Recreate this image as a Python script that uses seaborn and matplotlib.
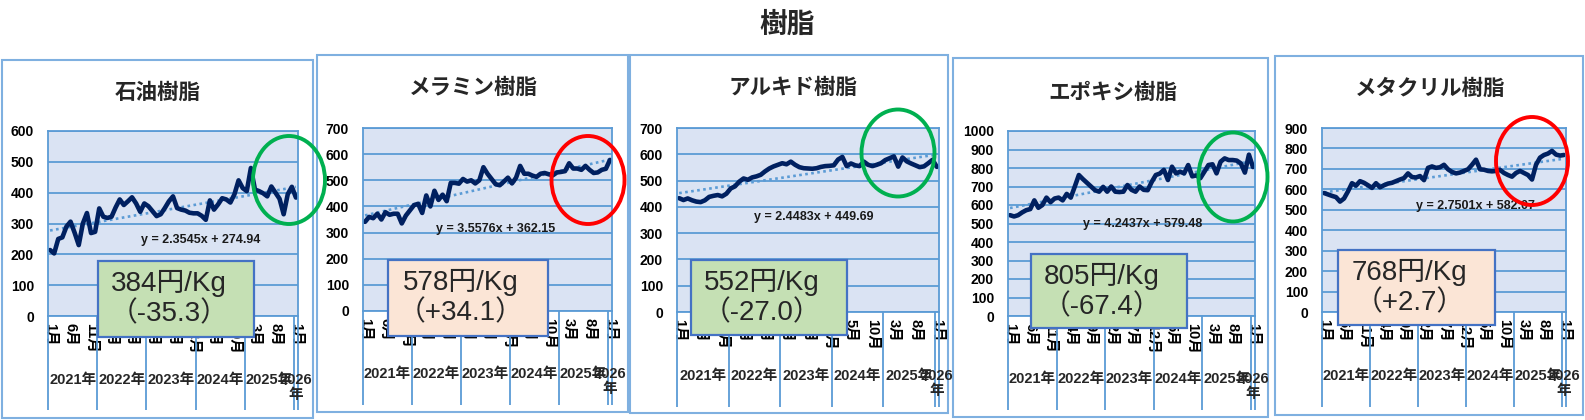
import matplotlib
matplotlib.use('Agg')
import matplotlib.pyplot as plt
import matplotlib.transforms as mtransforms
from matplotlib.patches import Rectangle, Ellipse
import numpy as np
import seaborn as sns

sns.set_theme(style='white')
plt.rcParams['font.family'] = ['Liberation Sans', 'Noto Sans CJK JP']

W, H = 1585, 420

# monthly prices, Jan 2021 .. Jan 2026 (61 points)
sekiyu = [214, 203, 250, 255, 290, 306, 270, 230, 300, 334, 269, 273, 349, 322, 318, 322,
          352, 378, 360, 372, 385, 365, 338, 365, 356, 340, 324, 330, 350, 372, 388, 350,
          345, 342, 335, 333, 333, 325, 312, 375, 345, 362, 382, 378, 368, 395, 440, 415,
          405, 480, 410, 405, 398, 388, 420, 400, 380, 330, 395, 419, 384]
melamine = [341, 360, 355, 372, 350, 378, 368, 372, 372, 335, 365, 385, 405, 410, 375, 442,
            400, 460, 425, 445, 420, 490, 490, 487, 505, 495, 500, 488, 500, 550, 525, 505,
            485, 481, 495, 510, 488, 510, 555, 525, 525, 518, 513, 525, 528, 523, 519, 530,
            532, 535, 565, 545, 545, 540, 555, 540, 528, 530, 540, 544, 578]
alkyd = [433, 426, 432, 425, 420, 418, 425, 438, 442, 445, 440, 450, 470, 478, 496, 508,
         503, 512, 516, 522, 535, 546, 554, 560, 566, 562, 572, 560, 551, 547, 546, 545,
         547, 552, 555, 556, 558, 580, 590, 555, 565, 558, 555, 572, 560, 555, 560, 566,
         578, 585, 592, 553, 588, 573, 565, 558, 551, 554, 566, 579, 552]
epoxy = [545, 538, 545, 560, 572, 578, 625, 585, 600, 640, 615, 635, 640, 625, 660, 640,
         700, 762, 740, 720, 700, 680, 672, 698, 672, 700, 672, 670, 672, 708, 682, 672,
         700, 682, 680, 725, 762, 770, 790, 735, 807, 771, 780, 771, 816, 755, 760, 745,
         780, 816, 820, 771, 834, 852, 843, 843, 840, 825, 775, 872, 805]
methacryl = [582, 575, 568, 562, 540, 555, 590, 630, 618, 640, 632, 620, 607, 630, 610, 620,
             628, 632, 640, 648, 655, 678, 660, 658, 665, 645, 705, 712, 705, 708, 720, 698,
             685, 678, 682, 690, 698, 720, 745, 698, 696, 690, 688, 690, 695, 680, 670, 662,
             680, 690, 680, 670, 648, 720, 755, 768, 775, 788, 770, 765, 768]

titles = ['石油樹脂', 'メラミン樹脂', 'アルキド樹脂', 'エポキシ樹脂', 'メタクリル樹脂']
series = [sekiyu, melamine, alkyd, epoxy, methacryl]
slopes = [2.3545, 3.5576, 2.4483, 4.2437, 2.7501]
intercepts = [274.94, 362.15, 449.69, 579.48, 582.07]
ymax = [600, 700, 700, 1000, 900]
prices = [384, 578, 552, 805, 768]
changes = ['-35.3', '+34.1', '-27.0', '-67.4', '+2.7']

month_ticks = ['1月', '6月', '11月', '4月', '9月', '2月', '7月', '12月', '5月', '10月', '3月', '8月', '1月']
year_labels = ['2021年', '2022年', '2023年', '2024年', '2025年', '2026\n年']

# pixel layout of each panel
layout = [
    dict(border=(2, 60, 313, 418), plot=(48, 131, 298, 316), title=(158, 92), box=(98, 261, 254, 337),
         ell=(289, 180, 72, 88), eq=(201, 240), year_y=379, sep=410),
    dict(border=(317, 55, 628, 412), plot=(363, 128, 612, 311), title=(473, 87), box=(388, 260, 548, 336),
         ell=(588, 180, 73, 88), eq=(496, 229), year_y=373, sep=405),
    dict(border=(630, 55, 948, 413), plot=(677, 128, 939, 312), title=(793, 87), box=(691, 260, 847, 335),
         ell=(898, 153, 73, 87), eq=(814, 217), year_y=375, sep=407),
    dict(border=(953, 58, 1268, 417), plot=(1008, 131, 1255, 316), title=(1113, 92), box=(1031, 254, 1187, 328),
         ell=(1233, 177, 69, 89), eq=(1143, 224), year_y=378, sep=410),
    dict(border=(1275, 56, 1583, 415), plot=(1322, 128, 1566, 312), title=(1430, 88), box=(1338, 250, 1495, 325),
         ell=(1532, 161, 72, 88), eq=(1475, 206), year_y=375, sep=407),
]

grid_c = '#5b9bd5'
cjk = ['Noto Sans CJK JP', 'DejaVu Sans']
boxfont = ['Liberation Sans', 'Noto Sans CJK JP']


def fx(x):
    return x / W


def fy(y):
    return 1 - y / H


fig = plt.figure(figsize=(W / 100, H / 100), dpi=100)
fig.text(fx(787), fy(25), '樹脂', ha='center', va='center', fontsize=20, fontweight='bold', family=cjk)

idx = np.arange(len(sekiyu))
tick_pos = list(range(0, 61, 5))
seps = [-0.5, 11.5, 23.5, 35.5, 47.5, 59.5, 60.5]
year_pos = [5.5, 17.5, 29.5, 41.5, 53.5, 60]

for k in range(5):
    L = layout[k]
    bx0, by0, bx1, by1 = L['border']
    fig.add_artist(Rectangle((fx(bx0), fy(by1)), (bx1 - bx0) / W, (by1 - by0) / H,
                             transform=fig.transFigure, facecolor='white',
                             edgecolor='#7fb0e0', lw=1.5, zorder=-5))
    px0, py0, px1, py1 = L['plot']
    ax = fig.add_axes([fx(px0), fy(py1), (px1 - px0) / W, (py1 - py0) / H])
    ax.set_facecolor('#dae3f3')

    trend = slopes[k] * (idx + 1) + intercepts[k]
    sns.lineplot(x=idx, y=trend, ax=ax, color='#5b9bd5', lw=1.9, linestyle=(0, (1, 1.3)))
    sns.lineplot(x=idx, y=series[k], ax=ax, color='#002060', lw=3.3,
                 solid_joinstyle='round', solid_capstyle='round')

    ax.set_xlim(-0.5, 60.5)
    ax.set_ylim(0, ymax[k])
    ax.set_yticks(range(0, ymax[k] + 1, 100))
    ax.set_xticks(tick_pos)
    ax.set_xticklabels(month_ticks, rotation=-90, fontsize=10.5, fontweight='bold')
    for lbl in ax.get_yticklabels():
        lbl.set_fontweight('bold')
        lbl.set_fontsize(10)
    ax.tick_params(axis='y', length=0, pad=10, colors='black')
    ax.tick_params(axis='x', length=0, pad=5, colors='black')
    ax.set_xlabel('')
    ax.set_ylabel('')
    ax.set_axisbelow(True)
    ax.yaxis.grid(True, color=grid_c, lw=1.3)
    ax.xaxis.grid(False)
    for sp in ax.spines.values():
        sp.set_color(grid_c)
        sp.set_linewidth(1.3)

    trans = mtransforms.blended_transform_factory(ax.transData, ax.transAxes)
    ph = py1 - py0
    ax.vlines(seps, -(L['sep'] - py1) / ph, 0, transform=trans, colors=grid_c, lw=1.3, clip_on=False)
    for pos, lab in zip(year_pos, year_labels):
        ax.text(pos, -(L['year_y'] - 6 - py1) / ph, lab, transform=trans, ha='center', va='top',
                fontsize=10.5, fontweight='bold', linespacing=1.05)

    tx, ty = L['title']
    fig.text(fx(tx), fy(ty), titles[k], ha='center', va='center', fontsize=15.5,
             fontweight='bold', family=cjk)

    ex, ey = L['eq']
    fig.text(fx(ex), fy(ey), f'y = {slopes[k]:.4f}x + {intercepts[k]:.2f}', ha='center', va='center',
             fontsize=9, fontweight='bold', color='#1a1a1a', zorder=3)

    up = changes[k].startswith('+')
    qx0, qy0, qx1, qy1 = L['box']
    fig.add_artist(Rectangle((fx(qx0), fy(qy1)), (qx1 - qx0) / W, (qy1 - qy0) / H,
                             transform=fig.transFigure, facecolor='#fbe5d6' if up else '#c5e0b4',
                             edgecolor='#4472c4', lw=1.6, zorder=5))
    cx = (qx0 + qx1) / 2 - 7
    fig.text(fx(cx), fy(qy0 + 22), f'{prices[k]}円/Kg', ha='center', va='center',
             fontsize=20, family=boxfont, zorder=6)
    fig.text(fx(cx), fy(qy0 + 53), f'（{changes[k]}）', ha='center', va='center',
             fontsize=20, family=boxfont, zorder=6)

    ecx, ecy, ew, eh = L['ell']
    fig.add_artist(Ellipse((fx(ecx), fy(ecy)), ew / W, eh / H, transform=fig.transFigure,
                           facecolor='none', edgecolor='#ff0000' if up else '#00b050',
                           lw=2.8, zorder=8))

fig.savefig('out.png', dpi=100)
